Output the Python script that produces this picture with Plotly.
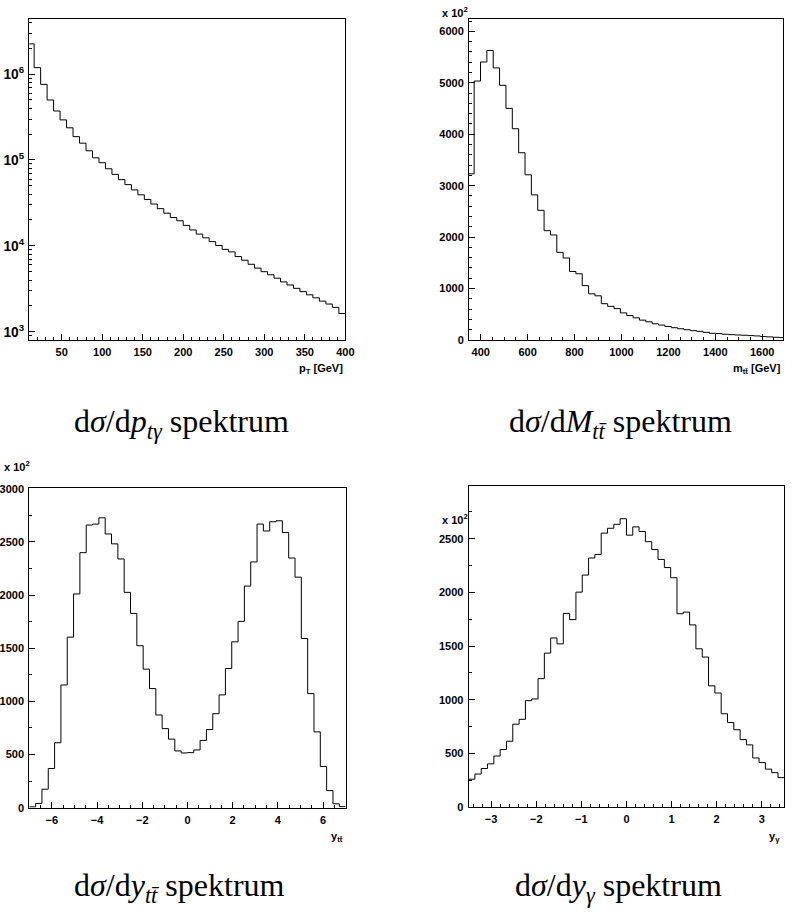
import numpy as np
import plotly.graph_objects as go

W, H = 795, 921

# ---------------- data ----------------
# p_T of photon spectrum (log scale), bins of 8 GeV
pt_edges = np.arange(8, 401, 8)
pt_vals = [2.25e6, 1.19e6, 7.6e5, 5.0e5, 3.72e5, 2.93e5, 2.37e5, 1.87e5, 1.57e5, 1.28e5,
           1.06e5, 9.3e4, 7.9e4, 6.8e4, 5.9e4, 5.16e4, 4.48e4, 3.93e4, 3.47e4, 3.07e4,
           2.71e4, 2.40e4, 2.14e4, 1.96e4, 1.73e4, 1.53e4, 1.37e4, 1.24e4, 1.12e4, 1.01e4,
           9.1e3, 8.5e3, 7.5e3, 6.8e3, 6.1e3, 5.5e3, 5.0e3, 4.6e3, 4.2e3, 3.8e3,
           3.5e3, 3.2e3, 2.93e3, 2.69e3, 2.48e3, 2.27e3, 2.10e3, 1.92e3, 1.63e3]

# m_tt spectrum (x 10^2)
mtt_edges = np.linspace(345, 1700, 51)
mtt_vals = [3230, 5034, 5405, 5629, 5290, 4951, 4503, 4107, 3640, 3211,
            2821, 2520, 2124, 2041, 1702, 1593, 1331, 1286, 1055, 896,
            857, 704, 652, 608, 525, 473, 429, 384, 352, 313,
            288, 262, 237, 217, 198, 179, 166, 147, 128, 122,
            109, 102, 96, 90, 83, 77, 64, 58, 51, 45]

# y_tt spectrum (x 10^2)
ytt_edges = np.linspace(-7, 7, 51)
ytt_vals = [8, 40, 174, 369, 611, 1154, 1604, 2010, 2398, 2658,
            2667, 2726, 2574, 2481, 2339, 2025, 1827, 1523, 1303, 1120,
            872, 744, 645, 534, 515, 518, 543, 633, 735, 884,
            1061, 1309, 1560, 1752, 2084, 2311, 2667, 2602, 2689, 2698,
            2587, 2348, 2168, 1591, 1073, 713, 388, 161, 37, 10]

# y_gamma spectrum (x 10^2)
yg_edges = np.linspace(-3.5, 3.5, 51)
yg_vals = [260, 308, 360, 403, 476, 537, 614, 773, 818, 992,
           1008, 1197, 1435, 1576, 1521, 1805, 1747, 2003, 2162, 2321,
           2354, 2553, 2598, 2635, 2687, 2534, 2611, 2568, 2473, 2400,
           2308, 2232, 2137, 1802, 1817, 1698, 1475, 1398, 1130, 1063,
           870, 788, 721, 629, 580, 458, 415, 354, 321, 275]

# ---------------- layout helpers ----------------
def fx(p):
    return p / W

def fy(p):
    return 1 - p / H

# panel boxes in pixels: (left, right, top, bottom)
boxes = {
    1: (25.7, 347.0, 13.0, 338.0),
    2: (472.7, 792.3, 12.7, 338.3),
    3: (25.7, 347.3, 488.5, 812.3),
    4: (472.3, 793.3, 486.0, 811.7),
}

fig = go.Figure()

def add_hist(edges, vals, i):
    x = list(edges)
    y = list(vals) + [vals[-1]]
    fig.add_trace(go.Scatter(
        x=x, y=y, mode="lines",
        line=dict(shape="hv", color="black", width=1),
        xaxis="x" if i == 1 else f"x{i}",
        yaxis="y" if i == 1 else f"y{i}",
        showlegend=False, hoverinfo="skip"))

add_hist(pt_edges, pt_vals, 1)
add_hist(mtt_edges, mtt_vals, 2)
add_hist(ytt_edges, ytt_vals, 3)
add_hist(yg_edges, yg_vals, 4)

tickfont = dict(family="Liberation Sans, Arial, sans-serif", size=11, color="black", weight="bold")

def axis_common():
    return dict(showline=True, linecolor="black", linewidth=1, mirror=True,
                ticks="inside", ticklen=6, tickwidth=1, tickcolor="black",
                showgrid=False, zeroline=False, tickfont=tickfont,
                ticklabelstandoff=2)

axes = {
    1: (dict(range=[10, 400], tick0=0, dtick=50,
             minor=dict(ticks="inside", ticklen=3, tickcolor="black", dtick=10, showgrid=False)),
        dict(type="log", range=[2.908, 6.644], dtick=1, exponentformat="power",
             minor=dict(ticks="inside", ticklen=3, tickcolor="black", dtick="D1", showgrid=False))),
    2: (dict(range=[350, 1690], tick0=0, dtick=200,
             minor=dict(ticks="inside", ticklen=3, tickcolor="black", dtick=50, showgrid=False)),
        dict(range=[0, 6250], tick0=0, dtick=1000,
             minor=dict(ticks="inside", ticklen=3, tickcolor="black", dtick=200, showgrid=False))),
    3: (dict(range=[-7, 7], tick0=0, dtick=2,
             minor=dict(ticks="inside", ticklen=3, tickcolor="black", dtick=0.5, showgrid=False)),
        dict(range=[0, 3005], tick0=0, dtick=500,
             minor=dict(ticks="inside", ticklen=3, tickcolor="black", dtick=250, showgrid=False))),
    4: (dict(range=[-3.5, 3.5], tick0=0, dtick=1,
             minor=dict(ticks="inside", ticklen=3, tickcolor="black", dtick=0.2, showgrid=False)),
        dict(range=[0, 2995], tick0=0, dtick=500,
             minor=dict(ticks="inside", ticklen=3, tickcolor="black", dtick=250, showgrid=False))),
}

layout = dict(width=W, height=H, margin=dict(l=0, r=0, t=0, b=0),
              paper_bgcolor="white", plot_bgcolor="white", showlegend=False)

for i, (xa, ya) in axes.items():
    l, r, t, b = boxes[i]
    xk = "xaxis" if i == 1 else f"xaxis{i}"
    yk = "yaxis" if i == 1 else f"yaxis{i}"
    xd = axis_common(); xd.update(xa)
    yd = axis_common(); yd.update(ya)
    xd["domain"] = [fx(l), fx(r)]
    yd["domain"] = [fy(b), fy(t)]
    xd["anchor"] = "y" if i == 1 else f"y{i}"
    yd["anchor"] = "x" if i == 1 else f"x{i}"
    layout[xk] = xd
    layout[yk] = yd

fig.update_layout(**layout)

lab_font = dict(family="Liberation Sans, Arial, sans-serif", size=11, color="black", weight="bold")
cap_font = dict(family="Liberation Serif, Times New Roman, serif", size=32, color="black")

def ann(text, x, y, font, xanchor="center", yanchor="middle"):
    fig.add_annotation(text=text, x=fx(x), y=fy(y), xref="paper", yref="paper",
                       showarrow=False, font=font, xanchor=xanchor, yanchor=yanchor)

# axis titles
ann("p<sub>T</sub> [GeV]", 347, 368, lab_font, xanchor="right")
ann("m<sub>tt̄</sub> [GeV]", 792, 368, lab_font, xanchor="right")
ann("y<sub>tt̄</sub>", 347, 842, lab_font, xanchor="right")
ann("y<sub>γ</sub>", 791, 842, lab_font, xanchor="right")

# multipliers
ann("x 10<sup>2</sup>", 459, 6, lab_font)
ann("x 10<sup>2</sup>", 13, 466, lab_font)
ann("x 10<sup>2</sup>", 459, 520, lab_font)

# captions
ann("d<i>σ</i>/d<i>p</i><sub><i>tγ</i></sub> spektrum", 180, 423, cap_font)
ann("d<i>σ</i>/d<i>M</i><sub><i>tt̄</i></sub> spektrum", 627, 423, cap_font)
ann("d<i>σ</i>/d<i>y</i><sub><i>tt̄</i></sub> spektrum", 178, 893, cap_font)
ann("d<i>σ</i>/d<i>y</i><sub><i>γ</i></sub> spektrum", 625, 893, cap_font)

fig.write_html("out.html")
